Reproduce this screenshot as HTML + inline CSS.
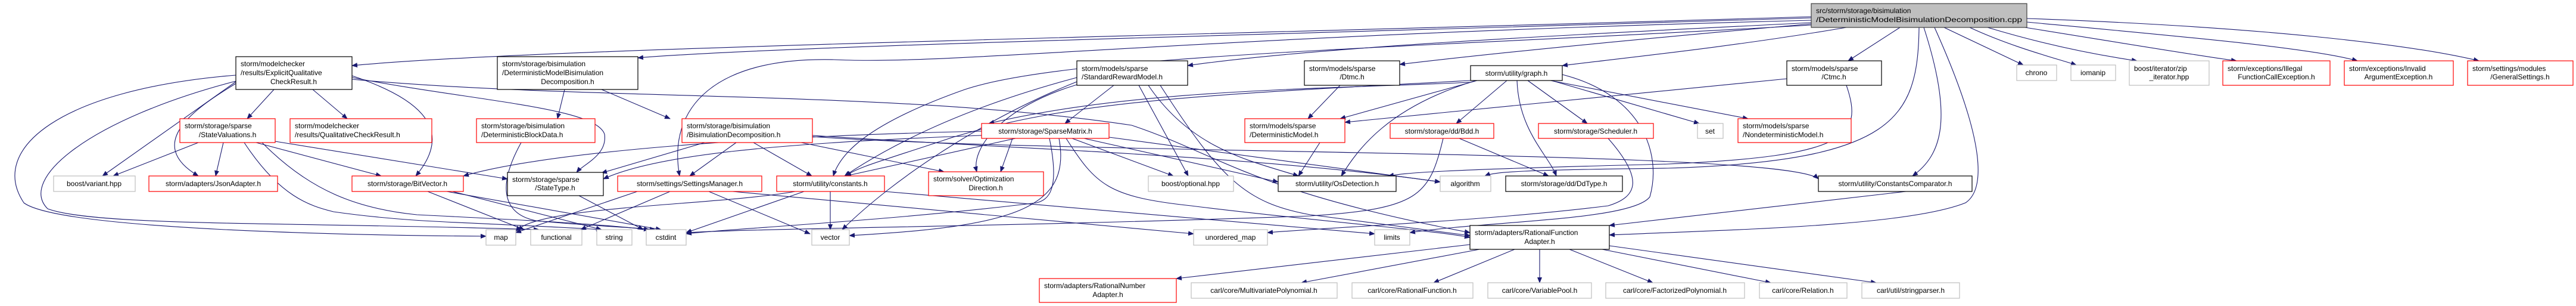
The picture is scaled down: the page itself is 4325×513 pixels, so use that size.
<!DOCTYPE html>
<html><head><meta charset="utf-8"><style>
html,body{margin:0;padding:0;background:#fff;}
svg{display:block;}
text{font-family:"Liberation Sans",sans-serif;font-size:12px;fill:#000;}
.e{fill:none;stroke:#191970;stroke-width:1.1;marker-end:url(#a);}
.b{fill:#fff;stroke:#000;stroke-width:1.2;}
.r{fill:#fff;stroke:#ff0000;stroke-width:1.2;}
.g{fill:#fff;stroke:#bfbfbf;stroke-width:1.2;}
</style></head><body>
<svg width="4325" height="513" viewBox="0 0 4325 513" xmlns="http://www.w3.org/2000/svg">
<defs><marker id="a" markerWidth="10" markerHeight="8" refX="9" refY="4" orient="auto" markerUnits="userSpaceOnUse"><path d="M0,0 L10,4 L0,8 z" fill="#191970"/></marker></defs>

<!-- edges from main -->
<path class="e" d="M3041,28 C2000,60 900,80 591,110"/>
<path class="e" d="M3041,30 C2000,62 1300,78 1071,97"/>
<path class="e" d="M3041,38 C2600,60 2200,80 1994,110"/>
<path class="e" d="M3041,40 C2700,70 2500,90 2350,108"/>
<path class="e" d="M3100,46 C2900,80 2700,100 2623,110"/>
<path class="e" d="M3190,46 L3103,102"/>
<path class="e" d="M3264,46 L3397,109"/>
<path class="e" d="M3307,46 C3380,80 3460,100 3486,109"/>
<path class="e" d="M3337,46 C3450,80 3540,95 3588,102"/>
<path class="e" d="M3400,46 C3550,70 3700,95 3755,102"/>
<path class="e" d="M3403,37 C3650,60 3880,80 3958,102"/>
<path class="e" d="M3403,31 C3800,45 4050,75 4162,102"/>
<path class="e" d="M3041,34 C2000,60 1600,110 1400,100 C1200,95 1120,180 1141,295"/>
<path class="e" d="M3041,42 C2400,80 1800,90 1620,150 C1450,210 1410,260 1399,295"/>
<path class="e" d="M3230,46 C3280,200 3260,260 3211,295"/>
<path class="e" d="M3248,46 C3340,250 3330,320 3300,340 C3200,380 2900,385 2702,394"/>
<path class="e" d="M3222,46 C3220,200 3180,270 2800,282 C2550,285 2510,288 2493,295"/>
<path class="e" d="M3100,143 C3130,230 3100,262 2800,275 C2400,285 2360,290 2331,295"/>
<!-- Dtmc / Ctmc / graph -->
<path class="e" d="M3000,132 L2258,205"/>
<path class="e" d="M2250,143 L2196,199"/>
<path class="e" d="M2480,135 L2250,199"/>
<path class="e" d="M2530,135 L2445,207"/>
<path class="e" d="M2565,135 L2665,207"/>
<path class="e" d="M2605,135 L2853,207"/>
<path class="e" d="M2603,135 L2935,199"/>
<path class="e" d="M2547,135 C2550,220 2600,260 2613,295"/>
<path class="e" d="M2478,135 C2330,180 2280,250 2252,295"/>
<path class="e" d="M2623,125 C2760,160 2790,260 2770,330 C2740,370 2500,370 2367,390"/>
<path class="e" d="M2469,135 C2000,160 1800,170 1600,230 C1480,270 1440,280 1420,295"/>
<path class="e" d="M2469,138 C2200,150 1900,150 1660,207"/>
<path class="e" d="M2216,239 L2180,295"/>
<!-- Bdd, Scheduler -->
<path class="e" d="M2450,232 L2600,295"/>
<path class="e" d="M2423,232 C2400,330 2380,350 2200,362 C1700,380 1300,382 1152,390"/>
<path class="e" d="M2700,232 C2760,300 2750,330 2700,345 C2500,370 2250,380 2128,390"/>
<!-- CC / RFA -->
<path class="e" d="M3200,321 L2702,378"/>
<path class="e" d="M2468,410 L1975,467"/>
<path class="e" d="M2484,418 L2185,474"/>
<path class="e" d="M2543,418 L2407,474"/>
<path class="e" d="M2585,418 L2585,474"/>
<path class="e" d="M2635,418 L2775,474"/>
<path class="e" d="M2690,418 L2973,474"/>
<path class="e" d="M2702,412 L3150,474"/>
<!-- StandardRewardModel -->
<path class="e" d="M1870,143 L1788,207"/>
<path class="e" d="M1912,143 L1995,295"/>
<path class="e" d="M1808,142 C1680,180 1630,250 1640,288"/>
<path class="e" d="M1808,130 C1620,180 1500,240 1418,295"/>
<path class="e" d="M1808,137 C1650,200 1500,300 1414,385"/>
<path class="e" d="M1948,143 C2050,300 2090,340 2200,360 C2350,380 2420,388 2468,395"/>
<path class="e" d="M1928,143 C2000,250 2100,270 2180,295"/>
<!-- SparseMatrix -->
<path class="e" d="M1705,232 L1420,295"/>
<path class="e" d="M1700,232 L1680,288"/>
<path class="e" d="M1800,232 L1970,295"/>
<path class="e" d="M1778,232 C1800,350 1700,380 1426,395"/>
<path class="e" d="M1762,232 C1780,320 1760,335 1740,340 C1500,370 1200,385 1152,392"/>
<path class="e" d="M1648,227 C1300,240 1100,260 1013,300"/>
<path class="e" d="M1648,220 C1200,230 900,260 778,295"/>
<path class="e" d="M1820,232 L2146,305"/>
<path class="e" d="M1862,230 L2418,305"/>
<path class="e" d="M1790,232 C1840,310 1860,330 2000,345 C2200,370 2400,385 2468,398"/>
<!-- BisimulationDecomposition / DMBD -->
<path class="e" d="M1010,150 L1125,199"/>
<path class="e" d="M948,150 L936,199"/>
<path class="e" d="M1236,239 L1158,295"/>
<path class="e" d="M1265,239 L1363,295"/>
<path class="e" d="M1345,239 L1585,288"/>
<path class="e" d="M1183,239 L1010,290"/>
<path class="e" d="M1364,227 C1700,250 2100,260 2418,305"/>
<path class="e" d="M1364,229 C1800,260 3000,250 3053,300"/>
<!-- SettingsManager / constants -->
<path class="e" d="M1070,321 L866,390"/>
<path class="e" d="M1190,321 L1360,392"/>
<path class="e" d="M1230,321 L2004,392"/>
<path class="e" d="M1125,321 L975,385"/>
<path class="e" d="M1394,321 L1394,385"/>
<path class="e" d="M1350,321 L1152,390"/>
<path class="e" d="M1335,321 C1200,345 900,345 866,388"/>
<path class="e" d="M1485,321 L2308,392"/>
<!-- ExplicitQualitative -->
<path class="e" d="M460,150 L415,199"/>
<path class="e" d="M525,150 L583,199"/>
<path class="e" d="M591,127 C690,160 770,210 698,295"/>
<path class="e" d="M396,137 L172,295"/>
<path class="e" d="M396,140 C330,180 240,240 333,295"/>
<path class="e" d="M396,126 C100,150 -20,250 40,340 C100,385 600,395 816,396"/>
<path class="e" d="M396,136 C150,200 30,300 80,350 C160,380 500,372 905,385"/>
<path class="e" d="M591,130 C800,170 1000,180 1015,225 C1020,260 980,275 968,289"/>
<path class="e" d="M591,133 C1000,170 1500,150 1900,210 C2050,260 2100,320 2468,390"/>
<!-- StateValuations -->
<path class="e" d="M333,239 L190,295"/>
<path class="e" d="M375,239 L362,295"/>
<path class="e" d="M430,239 L640,295"/>
<path class="e" d="M462,237 L852,300"/>
<path class="e" d="M410,239 C470,330 520,345 560,355 C700,375 800,372 1010,385"/>
<path class="e" d="M440,239 C520,320 600,350 700,360 C900,370 1000,375 1090,385"/>
<!-- DeterministicBlockData -->
<path class="e" d="M875,239 C830,320 850,360 900,370 C1000,380 1050,380 1100,385"/>
<!-- BitVector / StateType -->
<path class="e" d="M718,321 L880,385"/>
<path class="e" d="M750,321 L1110,385"/>
<path class="e" d="M760,321 L1010,385"/>
<path class="e" d="M972,328 L1080,385"/>

<!-- nodes -->
<rect x="3041" y="6" width="362" height="40" fill="#bfbfbf" stroke="#404040" stroke-width="1.2"/>
<text x="3049" y="22">src/storm/storage/bisimulation</text>
<text x="3049" y="37" textLength="346" lengthAdjust="spacingAndGlyphs">/DeterministicModelBisimulationDecomposition.cpp</text>

<rect class="b" x="396" y="95" width="195" height="55"/>
<text x="404" y="111">storm/modelchecker</text>
<text x="404" y="126">/results/ExplicitQualitative</text>
<text x="493" y="141" text-anchor="middle">CheckResult.h</text>

<rect class="b" x="835" y="95" width="236" height="55"/>
<text x="843" y="111">storm/storage/bisimulation</text>
<text x="843" y="126">/DeterministicModelBisimulation</text>
<text x="953" y="141" text-anchor="middle">Decomposition.h</text>

<rect class="b" x="1808" y="102" width="186" height="41"/>
<text x="1816" y="119">storm/models/sparse</text>
<text x="1816" y="133">/StandardRewardModel.h</text>

<rect class="b" x="2190" y="102" width="160" height="41"/>
<text x="2198" y="119">storm/models/sparse</text>
<text x="2270" y="133" text-anchor="middle">/Dtmc.h</text>

<rect class="b" x="2469" y="110" width="154" height="25"/>
<text x="2546" y="127" text-anchor="middle">storm/utility/graph.h</text>

<rect class="b" x="3000" y="102" width="159" height="41"/>
<text x="3008" y="119">storm/models/sparse</text>
<text x="3079" y="133" text-anchor="middle">/Ctmc.h</text>

<rect class="g" x="3386" y="109" width="67" height="26"/>
<text x="3419" y="126" text-anchor="middle">chrono</text>
<rect class="g" x="3477" y="109" width="75" height="26"/>
<text x="3514" y="126" text-anchor="middle">iomanip</text>
<rect class="g" x="3575" y="102" width="134" height="41"/>
<text x="3583" y="119">boost/iterator/zip</text>
<text x="3642" y="133" text-anchor="middle">_iterator.hpp</text>
<rect class="r" x="3732" y="102" width="180" height="41"/>
<text x="3740" y="119">storm/exceptions/Illegal</text>
<text x="3822" y="133" text-anchor="middle">FunctionCallException.h</text>
<rect class="r" x="3936" y="102" width="183" height="41"/>
<text x="3944" y="119">storm/exceptions/Invalid</text>
<text x="4027" y="133" text-anchor="middle">ArgumentException.h</text>
<rect class="r" x="4143" y="102" width="177" height="41"/>
<text x="4151" y="119">storm/settings/modules</text>
<text x="4231" y="133" text-anchor="middle">/GeneralSettings.h</text>

<!-- row 2 -->
<rect class="r" x="302" y="199" width="160" height="40"/>
<text x="310" y="215">storm/storage/sparse</text>
<text x="382" y="230" text-anchor="middle">/StateValuations.h</text>
<rect class="r" x="487" y="199" width="238" height="40"/>
<text x="495" y="215">storm/modelchecker</text>
<text x="495" y="230">/results/QualitativeCheckResult.h</text>
<rect class="r" x="800" y="199" width="199" height="40"/>
<text x="808" y="215">storm/storage/bisimulation</text>
<text x="808" y="230">/DeterministicBlockData.h</text>
<rect class="r" x="1145" y="199" width="219" height="40"/>
<text x="1153" y="215">storm/storage/bisimulation</text>
<text x="1153" y="230">/BisimulationDecomposition.h</text>
<rect class="r" x="1648" y="207" width="214" height="25"/>
<text x="1755" y="224" text-anchor="middle">storm/storage/SparseMatrix.h</text>
<rect class="r" x="2090" y="199" width="168" height="40"/>
<text x="2098" y="215">storm/models/sparse</text>
<text x="2098" y="230">/DeterministicModel.h</text>
<rect class="r" x="2334" y="207" width="174" height="25"/>
<text x="2421" y="224" text-anchor="middle">storm/storage/dd/Bdd.h</text>
<rect class="r" x="2583" y="207" width="193" height="25"/>
<text x="2679" y="224" text-anchor="middle">storm/storage/Scheduler.h</text>
<rect class="g" x="2850" y="207" width="43" height="25"/>
<text x="2871" y="224" text-anchor="middle">set</text>
<rect class="r" x="2918" y="199" width="190" height="40"/>
<text x="2926" y="215">storm/models/sparse</text>
<text x="2926" y="230">/NondeterministicModel.h</text>

<!-- row 3 -->
<rect class="g" x="90" y="295" width="137" height="26"/>
<text x="158" y="312" text-anchor="middle">boost/variant.hpp</text>
<rect class="r" x="250" y="295" width="216" height="26"/>
<text x="358" y="312" text-anchor="middle">storm/adapters/JsonAdapter.h</text>
<rect class="r" x="591" y="295" width="187" height="26"/>
<text x="684" y="312" text-anchor="middle">storm/storage/BitVector.h</text>
<rect class="b" x="852" y="289" width="161" height="39"/>
<text x="860" y="305">storm/storage/sparse</text>
<text x="932" y="319" text-anchor="middle">/StateType.h</text>
<rect class="r" x="1037" y="295" width="242" height="26"/>
<text x="1158" y="312" text-anchor="middle">storm/settings/SettingsManager.h</text>
<rect class="r" x="1304" y="295" width="181" height="26"/>
<text x="1394" y="312" text-anchor="middle">storm/utility/constants.h</text>
<rect class="r" x="1559" y="288" width="193" height="40"/>
<text x="1567" y="304">storm/solver/Optimization</text>
<text x="1655" y="319" text-anchor="middle">Direction.h</text>
<rect class="g" x="1928" y="295" width="143" height="26"/>
<text x="1999" y="312" text-anchor="middle">boost/optional.hpp</text>
<rect class="b" x="2146" y="295" width="198" height="26"/>
<text x="2245" y="312" text-anchor="middle">storm/utility/OsDetection.h</text>
<rect class="g" x="2418" y="295" width="85" height="26"/>
<text x="2460" y="312" text-anchor="middle">algorithm</text>
<rect class="b" x="2528" y="295" width="196" height="26"/>
<text x="2626" y="312" text-anchor="middle">storm/storage/dd/DdType.h</text>
<rect class="b" x="3053" y="295" width="258" height="26"/>
<text x="3182" y="312" text-anchor="middle">storm/utility/ConstantsComparator.h</text>

<!-- row 4 -->
<rect class="g" x="816" y="385" width="50" height="26"/>
<text x="841" y="402" text-anchor="middle">map</text>
<rect class="g" x="891" y="385" width="86" height="26"/>
<text x="934" y="402" text-anchor="middle">functional</text>
<rect class="g" x="1002" y="385" width="59" height="26"/>
<text x="1031" y="402" text-anchor="middle">string</text>
<rect class="g" x="1085" y="385" width="67" height="26"/>
<text x="1118" y="402" text-anchor="middle">cstdint</text>
<rect class="g" x="1363" y="385" width="63" height="26"/>
<text x="1394" y="402" text-anchor="middle">vector</text>
<rect class="g" x="2004" y="385" width="124" height="26"/>
<text x="2066" y="402" text-anchor="middle">unordered_map</text>
<rect class="g" x="2308" y="385" width="59" height="26"/>
<text x="2337" y="402" text-anchor="middle">limits</text>
<rect class="b" x="2468" y="378" width="234" height="40"/>
<text x="2476" y="394">storm/adapters/RationalFunction</text>
<text x="2585" y="409" text-anchor="middle">Adapter.h</text>

<!-- row 5 -->
<rect class="r" x="1745" y="467" width="230" height="40"/>
<text x="1753" y="483">storm/adapters/RationalNumber</text>
<text x="1860" y="498" text-anchor="middle">Adapter.h</text>
<rect class="g" x="2000" y="474" width="245" height="26"/>
<text x="2122" y="491" text-anchor="middle">carl/core/MultivariatePolynomial.h</text>
<rect class="g" x="2270" y="474" width="203" height="26"/>
<text x="2371" y="491" text-anchor="middle">carl/core/RationalFunction.h</text>
<rect class="g" x="2498" y="474" width="174" height="26"/>
<text x="2585" y="491" text-anchor="middle">carl/core/VariablePool.h</text>
<rect class="g" x="2696" y="474" width="233" height="26"/>
<text x="2812" y="491" text-anchor="middle">carl/core/FactorizedPolynomial.h</text>
<rect class="g" x="2954" y="474" width="147" height="26"/>
<text x="3027" y="491" text-anchor="middle">carl/core/Relation.h</text>
<rect class="g" x="3126" y="474" width="164" height="26"/>
<text x="3208" y="491" text-anchor="middle">carl/util/stringparser.h</text>
</svg>
</body></html>
